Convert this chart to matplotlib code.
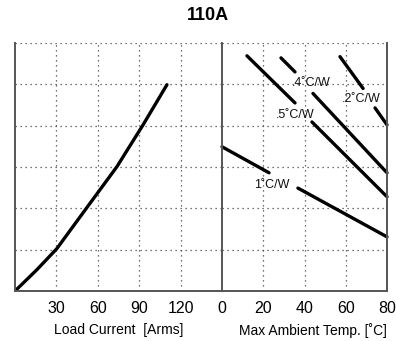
import matplotlib
matplotlib.use("Agg")
import matplotlib.pyplot as plt

plt.rcParams['font.family'] = ['Liberation Sans', 'DejaVu Sans']

# Left panel: power curve vs load current (y in grid divisions)
current = [0, 15.7, 30.2, 51.9, 73.9, 92.8, 110.1]
power = [0, 0.51, 1.02, 2.01, 3.01, 4.02, 4.99]

# Right panel: derating lines (segments split around labels)
r1_seg1_x = [0, 22.8];   r1_seg1_y = [3.49, 2.86]
r1_seg2_x = [36.8, 80];  r1_seg2_y = [2.49, 1.31]
r05_seg1_x = [12.1, 35.4]; r05_seg1_y = [5.69, 4.55]
r05_seg2_x = [43.6, 80];   r05_seg2_y = [4.09, 2.28]
r04_seg1_x = [28.6, 35.4]; r04_seg1_y = [5.64, 5.30]
r04_seg2_x = [44.1, 80];   r04_seg2_y = [4.78, 2.86]
r02_seg1_x = [57.2, 68.4]; r02_seg1_y = [5.67, 4.90]
r02_seg2_x = [74.2, 80];   r02_seg2_y = [4.43, 4.02]

left_ticks = [30, 60, 90, 120]
right_ticks = [0, 20, 40, 60, 80]

labels = ['.4˚C/W', '.2˚C/W', '.5˚C/W', '1˚C/W']
label_x = [43.2, 67.6, 35.6, 24.2]
label_y = [5.04, 4.65, 4.26, 2.57]

fig = plt.figure(figsize=(3.96, 3.41), dpi=100)
H = 341.0
W = 396.0
axL = fig.add_axes([15 / W, (H - 291) / H, 207 / W, 248 / H])
axR = fig.add_axes([222 / W, (H - 291) / H, 165 / W, 248 / H])

grid_kw = dict(color='#444444', linestyle=(0, (1, 3)), linewidth=0.9)
lw = 2.4

for ax, xmax, step in [(axL, 150, 30), (axR, 80, 20)]:
    ax.set_xlim(0, xmax)
    ax.set_ylim(0, 6)
    ax.set_yticks([])
    for gx in range(step, xmax, step):
        ax.axvline(gx, **grid_kw)
    for gy in range(1, 6):
        ax.axhline(gy, **grid_kw)
    ax.axhline(6, **grid_kw)
    ax.spines['top'].set_visible(False)
    for s in ['left', 'right', 'bottom']:
        ax.spines[s].set_color('#555555')
        ax.spines[s].set_linewidth(1.4)
    ax.tick_params(length=0, labelsize=11.5, pad=7)

axL.spines['right'].set_visible(False)
axL.set_xticks(left_ticks)
axL.set_xticklabels([str(t) for t in left_ticks])
axR.set_xticks(right_ticks)
axR.set_xticklabels([str(t) for t in right_ticks])

axL.plot(current, power, color='black', linewidth=lw, solid_capstyle='round',
         solid_joinstyle='round')

for xs, ys in [(r1_seg1_x, r1_seg1_y), (r1_seg2_x, r1_seg2_y),
               (r05_seg1_x, r05_seg1_y), (r05_seg2_x, r05_seg2_y),
               (r04_seg1_x, r04_seg1_y), (r04_seg2_x, r04_seg2_y),
               (r02_seg1_x, r02_seg1_y), (r02_seg2_x, r02_seg2_y)]:
    axR.plot(xs, ys, color='black', linewidth=lw, solid_capstyle='round', clip_on=False)

for t, x, y in zip(labels, label_x, label_y):
    axR.text(x, y, t, fontsize=9, ha='center', va='center', color='#111111')

axL.set_xlabel('Load Current  [Arms]', fontsize=10, labelpad=3)
axR.set_xlabel('Max Ambient Temp. [˚C]', fontsize=10, labelpad=3)
axR.xaxis.set_label_coords(0.55, -0.13)
axL.xaxis.set_label_coords(0.5, -0.13)

fig.text(208 / W, 1 - 15 / H, '110A', fontsize=13, fontweight='bold', ha='center', va='center')

fig.savefig('out.png', dpi=100)
